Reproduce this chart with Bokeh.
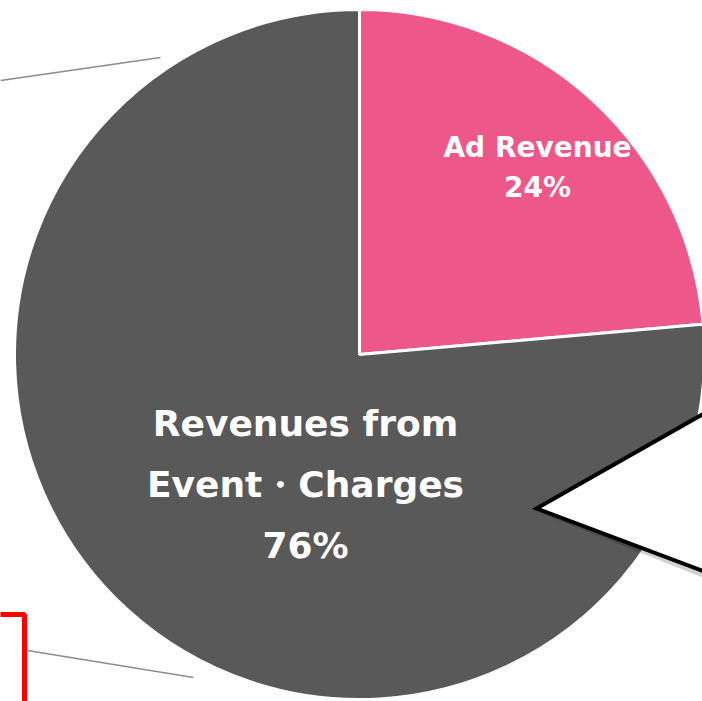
import math
from bokeh.plotting import figure
from bokeh.models import Range1d, ColumnDataSource
from bokeh.core.properties import value
from bokeh.embed import file_html
from bokeh.resources import INLINE

# ---- data ----
categories = ["Ad Revenue", "Revenues from\nEvent・Charges"]
shares = [23.6, 76.4]
colors = ["#EE5789", "#595959"]

# ---- canvas (data units = screen pixels, y pointing up as -screen_y) ----
W, H = 702, 701
p = figure(width=W, height=H, output_backend="svg", toolbar_location=None,
           x_range=Range1d(0, W), y_range=Range1d(-H, 0),
           min_border=0, outline_line_color=None, background_fill_color="white")
p.axis.visible = False
p.grid.visible = False

cx, cy, r = 359, -354, 345

# pie wedges, clockwise from 12 o'clock
total = sum(shares)
starts, ends = [], []
acc = 0.0
for v in shares:
    a0 = math.pi / 2 - 2 * math.pi * acc / total
    acc += v
    a1 = math.pi / 2 - 2 * math.pi * acc / total
    starts.append(a0)
    ends.append(a1)

src = ColumnDataSource(dict(cat=categories, share=shares, color=colors,
                            start=starts, end=ends))
p.wedge(x=cx, y=cy, radius=r, start_angle="start", end_angle="end",
        direction="clock", fill_color="color", line_color="white",
        line_width=3, source=src)

# decorative leader lines
p.line([0, 160], [-80, -57], line_color="#8C8C8C", line_width=1.5)
p.line([27, 193], [-650, -677], line_color="#8C8C8C", line_width=1.5)
# red frame fragment
p.line([-5, 24, 24], [-614, -614, -710], line_color="#FF0000", line_width=5)

# callout triangle with soft shadow
p.patch([539, 760, 760], [-512, -384, -600], fill_color="black", fill_alpha=0.18,
        line_color=None)
p.patch([536, 760, 760], [-508, -381, -592], fill_color="white",
        line_color="black", line_width=4, line_join="miter")

# labels
labels = [f"{c}\n{round(v)}%" for c, v in zip(categories, shares)]
p.text(x=[537], y=[-167], text=[labels[0]], text_align="center",
       text_baseline="middle", text_color="white",
       text_font=value("DejaVu Sans"), text_font_style="bold",
       text_font_size="28px", text_line_height=1.24)
p.text(x=[305], y=[-484], text=[labels[1]], text_align="center",
       text_baseline="middle", text_color="white",
       text_font=value("DejaVu Sans"), text_font_style="bold",
       text_font_size="36px", text_line_height=1.48)

open("out.html", "w").write(file_html(p, INLINE))
